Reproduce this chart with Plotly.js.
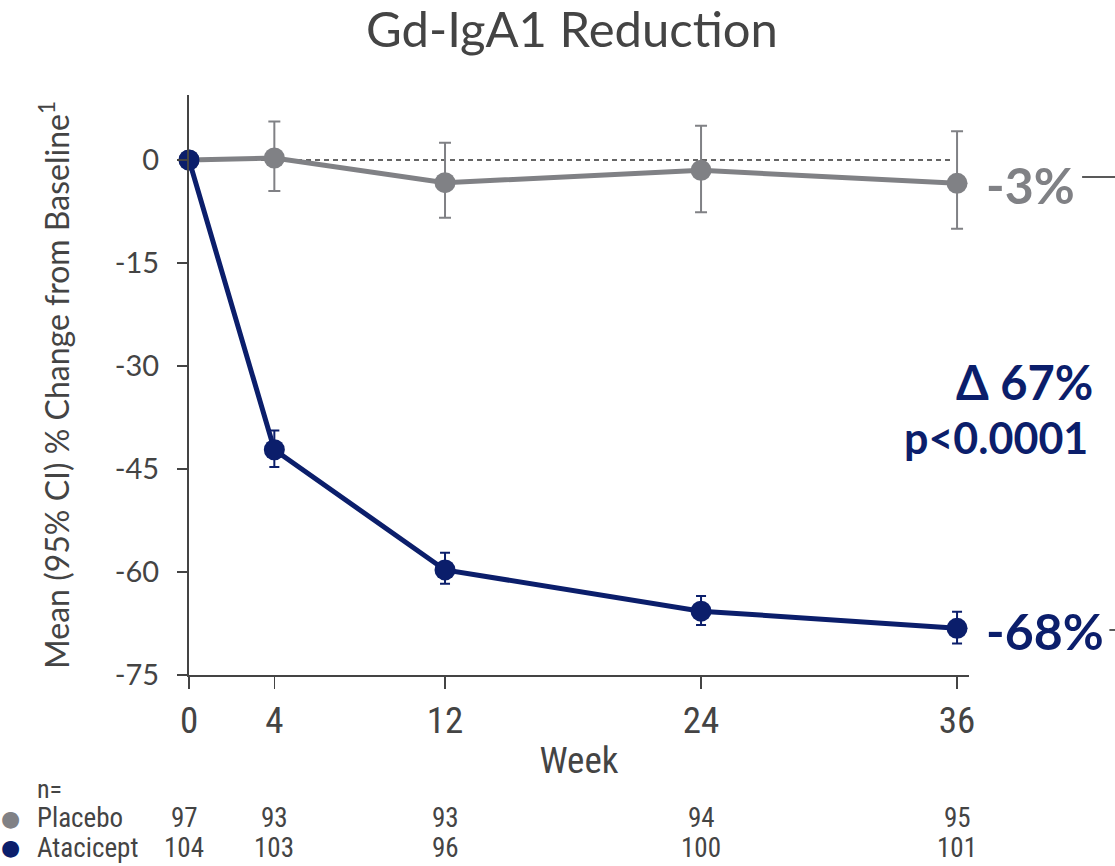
<!DOCTYPE html>
<html>
<head>
<meta charset="utf-8">
<script src="https://cdn.plot.ly/plotly-3.0.1.min.js"></script>
<style>html,body{margin:0;padding:0;background:#fff;}#chart{width:1115px;height:866px;}</style>
</head>
<body>
<div id="chart"></div>
<script>
// ---- data ----
const weeks = [0, 4, 12, 24, 36];
const placeboMean = [0, 0.3, -3.3, -1.5, -3.4];
const placeboUpper = [0, 5.6, 2.5, 5.0, 4.2];
const placeboLower = [0, -4.5, -8.4, -7.6, -10.0];
const ataciceptMean = [0, -42.2, -59.7, -65.7, -68.2];
const ataciceptUpper = [0, -39.4, -57.2, -63.5, -65.8];
const ataciceptLower = [0, -44.7, -61.7, -67.7, -70.4];
const nPlacebo = [97, 93, 93, 94, 95];
const nAtacicept = [104, 103, 96, 100, 101];
const yTicks = [0, -15, -30, -45, -60, -75];
const xTicks = [0, 4, 12, 24, 36];
const labelPlacebo = '-3%';
const labelAtacicept = '-68%';
const deltaText = 'Δ 67%';
const pText = 'p<0.0001';

const GRAY = '#808185';
const NAVY = '#0b1e6b';
const AX = '#444444';
const FONT = 'Lato, "Noto Sans", sans-serif';
const NARROW = '"Liberation Sans Narrow", "Roboto Condensed", Roboto, sans-serif';

function errs(mean, up, lo) {
  return {
    type: 'data', symmetric: false,
    array: up.map((u, i) => u - mean[i]),
    arrayminus: mean.map((m, i) => m - lo[i]),
  };
}

const placebo = {
  x: weeks, y: placeboMean, type: 'scatter', mode: 'lines+markers', name: 'Placebo',
  line: {color: GRAY, width: 5},
  marker: {color: GRAY, size: 21},
  error_y: Object.assign(errs(placeboMean, placeboUpper, placeboLower), {color: GRAY, thickness: 2, width: 6}),
  cliponaxis: false,
};
const atacicept = {
  x: weeks, y: ataciceptMean, type: 'scatter', mode: 'lines+markers', name: 'Atacicept',
  line: {color: NAVY, width: 5},
  marker: {color: NAVY, size: 21},
  error_y: Object.assign(errs(ataciceptMean, ataciceptUpper, ataciceptLower), {color: NAVY, thickness: 2, width: 5}),
  cliponaxis: false,
};

const annotations = [];
// n= table
annotations.push({xref: 'paper', yref: 'paper', x: -0.197, y: -0.1966, text: 'n=', showarrow: false,
  xanchor: 'left', yanchor: 'middle', font: {family: NARROW, size: 26, color: AX}});
const rows = [
  {label: 'Placebo', vals: nPlacebo, color: GRAY, y: -0.2466},
  {label: 'Atacicept', vals: nAtacicept, color: NAVY, y: -0.298},
];
rows.forEach(r => {
  annotations.push({xref: 'paper', yref: 'paper', x: -0.244, y: r.y, text: '●', showarrow: false,
    xanchor: 'left', yanchor: 'middle', font: {family: 'DejaVu Sans', size: 22, color: r.color}});
  annotations.push({xref: 'paper', yref: 'paper', x: -0.197, y: r.y, text: r.label, showarrow: false,
    xanchor: 'left', yanchor: 'middle', font: {family: NARROW, size: 27, color: AX}});
  r.vals.forEach((v, i) => {
    annotations.push({xref: 'x', yref: 'paper', x: weeks[i], xshift: i === 0 ? -5 : 0, y: r.y, text: String(v),
      showarrow: false, xanchor: 'center', yanchor: 'middle', font: {family: NARROW, size: 27, color: AX}});
  });
});
// end labels
annotations.push({xref: 'paper', yref: 'y', x: 1.019, y: placeboMean[4] - 0.3, text: '<b>' + labelPlacebo + '</b>',
  showarrow: false, xanchor: 'left', yanchor: 'middle', font: {family: FONT, size: 50, color: GRAY}});
annotations.push({xref: 'paper', yref: 'y', x: 1.019, y: ataciceptMean[4] - 0.4, text: '<b>' + labelAtacicept + '</b>',
  showarrow: false, xanchor: 'left', yanchor: 'middle', font: {family: FONT, size: 50, color: NAVY}});
annotations.push({xref: 'paper', yref: 'paper', x: 1.1615, y: 0.505, text: '<b>' + deltaText + '</b>',
  showarrow: false, xanchor: 'right', yanchor: 'middle', font: {family: FONT, size: 47, color: NAVY}});
annotations.push({xref: 'paper', yref: 'paper', x: 1.155, y: 0.410, text: '<b>' + pText + '</b>',
  showarrow: false, xanchor: 'right', yanchor: 'middle', font: {family: FONT, size: 43, color: NAVY}});

const shapes = [
  {type: 'line', xref: 'x', yref: 'y', x0: 0, x1: 35.8, y0: 0, y1: 0, layer: 'below',
    line: {color: '#333', width: 1.5, dash: '5px,4px'}},
  {type: 'line', xref: 'paper', yref: 'paper', x0: 1.145, x1: 1.19, y0: 0.8586, y1: 0.8586,
    line: {color: '#222', width: 1.5}},
  {type: 'line', xref: 'paper', yref: 'paper', x0: 1.18, x1: 1.19, y0: 0.0776, y1: 0.0776,
    line: {color: '#222', width: 1.5}},
];

const layout = {
  width: 1115, height: 866,
  margin: {l: 189, r: 146, t: 95, b: 191},
  paper_bgcolor: '#fff', plot_bgcolor: '#fff',
  showlegend: false,
  title: {text: 'Gd-IgA1 Reduction', x: 0.513, xanchor: 'center', y: 0.965, yanchor: 'middle', yref: 'container',
    font: {family: FONT, size: 49, color: AX}},
  xaxis: {
    range: [0, 36.56], tickvals: xTicks, ticktext: xTicks.map(String),
    showline: true, linecolor: AX, linewidth: 2, ticks: 'outside', ticklen: 12, tickwidth: 1.5, tickcolor: AX,
    showgrid: false, zeroline: false, fixedrange: true,
    tickfont: {family: NARROW, size: 37, color: AX},
    title: {text: 'Week', standoff: 6, font: {family: NARROW, size: 37, color: AX}},
  },
  yaxis: {
    range: [-75, 9.47], tickvals: yTicks, ticktext: yTicks.map(String),
    showline: true, linecolor: AX, linewidth: 2, ticks: 'outside', ticklen: 10, tickwidth: 1.5, tickcolor: AX,
    showgrid: false, zeroline: false, fixedrange: true, ticklabelstandoff: 12,
    tickfont: {family: FONT, size: 29, color: AX},
    title: {text: 'Mean (95% CI) % Change from Baseline<sup>1</sup>', standoff: 36,
      font: {family: FONT, size: 32, color: AX}},
  },
  annotations: annotations,
  shapes: shapes,
};

Plotly.newPlot('chart', [placebo, atacicept], layout, {displayModeBar: false, staticPlot: true});
</script>
</body>
</html>
